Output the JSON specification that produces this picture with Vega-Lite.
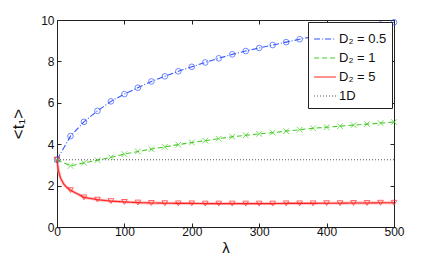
{
  "$schema": "https://vega.github.io/schema/vega-lite/v6.json",
  "autosize": {"type": "none"},
  "width": 337,
  "height": 207,
  "padding": {"left": 57, "top": 20, "right": 42, "bottom": 35},
  "background": "white",
  "config": {
    "font": "Liberation Sans",
    "view": {"stroke": "#222", "strokeWidth": 1},
    "axis": {
      "domain": false,
      "grid": false,
      "ticks": true,
      "tickColor": "#222",
      "tickSize": -4,
      "labelFlush": false,
      "labelFontSize": 12,
      "labelColor": "#111",
      "titleFontSize": 15,
      "titleFontWeight": "normal",
      "titleColor": "#111"
    },
    "legend": {
      "orient": "top-right",
      "offset": 2,
      "fillColor": "white",
      "strokeColor": "#222",
      "padding": 5,
      "labelFontSize": 13,
      "labelColor": "#111",
      "symbolSize": 480,
      "symbolStrokeWidth": 1.2,
      "rowPadding": 0,
      "labelOffset": 2
    }
  },
  "data": {
    "values": [
      {"lambda": 0, "t": 3.25, "series": "D₂ = 0.5"},
      {"lambda": 20, "t": 4.39, "series": "D₂ = 0.5"},
      {"lambda": 40, "t": 5.08, "series": "D₂ = 0.5"},
      {"lambda": 60, "t": 5.61, "series": "D₂ = 0.5"},
      {"lambda": 80, "t": 6.07, "series": "D₂ = 0.5"},
      {"lambda": 100, "t": 6.42, "series": "D₂ = 0.5"},
      {"lambda": 120, "t": 6.73, "series": "D₂ = 0.5"},
      {"lambda": 140, "t": 7.03, "series": "D₂ = 0.5"},
      {"lambda": 160, "t": 7.28, "series": "D₂ = 0.5"},
      {"lambda": 180, "t": 7.52, "series": "D₂ = 0.5"},
      {"lambda": 200, "t": 7.74, "series": "D₂ = 0.5"},
      {"lambda": 220, "t": 7.95, "series": "D₂ = 0.5"},
      {"lambda": 240, "t": 8.15, "series": "D₂ = 0.5"},
      {"lambda": 260, "t": 8.34, "series": "D₂ = 0.5"},
      {"lambda": 280, "t": 8.5, "series": "D₂ = 0.5"},
      {"lambda": 300, "t": 8.65, "series": "D₂ = 0.5"},
      {"lambda": 320, "t": 8.79, "series": "D₂ = 0.5"},
      {"lambda": 340, "t": 8.93, "series": "D₂ = 0.5"},
      {"lambda": 360, "t": 9.07, "series": "D₂ = 0.5"},
      {"lambda": 380, "t": 9.2, "series": "D₂ = 0.5"},
      {"lambda": 400, "t": 9.32, "series": "D₂ = 0.5"},
      {"lambda": 420, "t": 9.44, "series": "D₂ = 0.5"},
      {"lambda": 440, "t": 9.56, "series": "D₂ = 0.5"},
      {"lambda": 460, "t": 9.67, "series": "D₂ = 0.5"},
      {"lambda": 480, "t": 9.78, "series": "D₂ = 0.5"},
      {"lambda": 500, "t": 9.89, "series": "D₂ = 0.5"},
      {"lambda": 0, "t": 3.25, "series": "D₂ = 1"},
      {"lambda": 20, "t": 2.95, "series": "D₂ = 1"},
      {"lambda": 40, "t": 3.1, "series": "D₂ = 1"},
      {"lambda": 60, "t": 3.23, "series": "D₂ = 1"},
      {"lambda": 80, "t": 3.37, "series": "D₂ = 1"},
      {"lambda": 100, "t": 3.52, "series": "D₂ = 1"},
      {"lambda": 120, "t": 3.65, "series": "D₂ = 1"},
      {"lambda": 140, "t": 3.76, "series": "D₂ = 1"},
      {"lambda": 160, "t": 3.87, "series": "D₂ = 1"},
      {"lambda": 180, "t": 3.98, "series": "D₂ = 1"},
      {"lambda": 200, "t": 4.08, "series": "D₂ = 1"},
      {"lambda": 220, "t": 4.17, "series": "D₂ = 1"},
      {"lambda": 240, "t": 4.27, "series": "D₂ = 1"},
      {"lambda": 260, "t": 4.36, "series": "D₂ = 1"},
      {"lambda": 280, "t": 4.43, "series": "D₂ = 1"},
      {"lambda": 300, "t": 4.5, "series": "D₂ = 1"},
      {"lambda": 320, "t": 4.56, "series": "D₂ = 1"},
      {"lambda": 340, "t": 4.63, "series": "D₂ = 1"},
      {"lambda": 360, "t": 4.7, "series": "D₂ = 1"},
      {"lambda": 380, "t": 4.77, "series": "D₂ = 1"},
      {"lambda": 400, "t": 4.82, "series": "D₂ = 1"},
      {"lambda": 420, "t": 4.87, "series": "D₂ = 1"},
      {"lambda": 440, "t": 4.92, "series": "D₂ = 1"},
      {"lambda": 460, "t": 4.97, "series": "D₂ = 1"},
      {"lambda": 480, "t": 5.02, "series": "D₂ = 1"},
      {"lambda": 500, "t": 5.07, "series": "D₂ = 1"},
      {"lambda": 0, "t": 3.25, "series": "D₂ = 5"},
      {"lambda": 2, "t": 2.75, "series": "D₂ = 5"},
      {"lambda": 5, "t": 2.38, "series": "D₂ = 5"},
      {"lambda": 10, "t": 2.07, "series": "D₂ = 5"},
      {"lambda": 15, "t": 1.9, "series": "D₂ = 5"},
      {"lambda": 20, "t": 1.78, "series": "D₂ = 5"},
      {"lambda": 40, "t": 1.43, "series": "D₂ = 5"},
      {"lambda": 60, "t": 1.32, "series": "D₂ = 5"},
      {"lambda": 80, "t": 1.25, "series": "D₂ = 5"},
      {"lambda": 100, "t": 1.21, "series": "D₂ = 5"},
      {"lambda": 120, "t": 1.18, "series": "D₂ = 5"},
      {"lambda": 140, "t": 1.16, "series": "D₂ = 5"},
      {"lambda": 160, "t": 1.15, "series": "D₂ = 5"},
      {"lambda": 180, "t": 1.14, "series": "D₂ = 5"},
      {"lambda": 200, "t": 1.14, "series": "D₂ = 5"},
      {"lambda": 220, "t": 1.13, "series": "D₂ = 5"},
      {"lambda": 240, "t": 1.13, "series": "D₂ = 5"},
      {"lambda": 260, "t": 1.13, "series": "D₂ = 5"},
      {"lambda": 280, "t": 1.13, "series": "D₂ = 5"},
      {"lambda": 300, "t": 1.13, "series": "D₂ = 5"},
      {"lambda": 320, "t": 1.13, "series": "D₂ = 5"},
      {"lambda": 340, "t": 1.14, "series": "D₂ = 5"},
      {"lambda": 360, "t": 1.14, "series": "D₂ = 5"},
      {"lambda": 380, "t": 1.14, "series": "D₂ = 5"},
      {"lambda": 400, "t": 1.15, "series": "D₂ = 5"},
      {"lambda": 420, "t": 1.15, "series": "D₂ = 5"},
      {"lambda": 440, "t": 1.16, "series": "D₂ = 5"},
      {"lambda": 460, "t": 1.16, "series": "D₂ = 5"},
      {"lambda": 480, "t": 1.17, "series": "D₂ = 5"},
      {"lambda": 500, "t": 1.17, "series": "D₂ = 5"},
      {"lambda": 0, "t": 3.25, "series": "1D"},
      {"lambda": 500, "t": 3.25, "series": "1D"}
    ]
  },
  "resolve": {"scale": {"x": "independent", "y": "independent"}},
  "layer": [
    {
      "layer": [
        {
          "transform": [{"filter": "datum.series === 'D₂ = 5'"}],
          "mark": {"type": "line", "color": "#ff9a9a", "strokeWidth": 2.8, "opacity": 0.75},
          "encoding": {
            "x": {"field": "lambda", "type": "quantitative"},
            "y": {"field": "t", "type": "quantitative"}
          }
        },
        {
          "mark": {"type": "line", "strokeWidth": 1.1},
          "encoding": {
            "x": {
              "field": "lambda", "type": "quantitative",
              "scale": {"domain": [0, 500], "nice": false},
              "axis": {"values": [0, 100, 200, 300, 400, 500], "title": "λ", "labelPadding": 3, "titlePadding": 3}
            },
            "y": {
              "field": "t", "type": "quantitative",
              "scale": {"domain": [0, 10], "nice": false},
              "axis": {"values": [0, 2, 4, 6, 8, 10], "title": "<t₁>", "titleFontSize": 17, "labelPadding": 7, "titlePadding": 13}
            },
            "color": {
              "field": "series", "type": "nominal",
              "scale": {
                "domain": ["D₂ = 0.5", "D₂ = 1", "D₂ = 5", "1D"],
                "range": ["#3355ff", "#44cc22", "#ff2222", "#555555"]
              },
              "legend": {"title": null}
            },
            "strokeDash": {
              "field": "series", "type": "nominal",
              "scale": {
                "domain": ["D₂ = 0.5", "D₂ = 1", "D₂ = 5", "1D"],
                "range": [[6, 2, 1, 2], [5, 3], [1, 0], [1, 2]]
              },
              "legend": {"title": null}
            }
          }
        },
        {
          "transform": [{"filter": "datum.series !== '1D' && datum.lambda % 20 === 0"}],
          "mark": {"type": "point", "filled": false, "strokeWidth": 1, "size": 32},
          "encoding": {
            "x": {"field": "lambda", "type": "quantitative"},
            "y": {"field": "t", "type": "quantitative"},
            "color": {"field": "series", "type": "nominal", "legend": null},
            "shape": {
              "field": "series", "type": "nominal",
              "scale": {
                "domain": ["D₂ = 0.5", "D₂ = 1", "D₂ = 5"],
                "range": ["circle", "M-1,-1L1,1M-1,1L1,-1", "triangle-down"]
              },
              "legend": null
            }
          }
        }
      ]
    },
    {
      "transform": [{"filter": "datum.series === '1D'"}],
      "mark": {"type": "point", "opacity": 0},
      "encoding": {
        "x": {"field": "lambda", "type": "quantitative", "scale": {"domain": [0, 500], "nice": false}, "axis": {"orient": "top", "labels": false, "title": null, "values": [0, 100, 200, 300, 400, 500]}},
        "y": {"field": "t", "type": "quantitative", "scale": {"domain": [0, 10], "nice": false}, "axis": {"orient": "right", "labels": false, "title": null, "values": [0, 2, 4, 6, 8, 10]}}
      }
    }
  ]
}
